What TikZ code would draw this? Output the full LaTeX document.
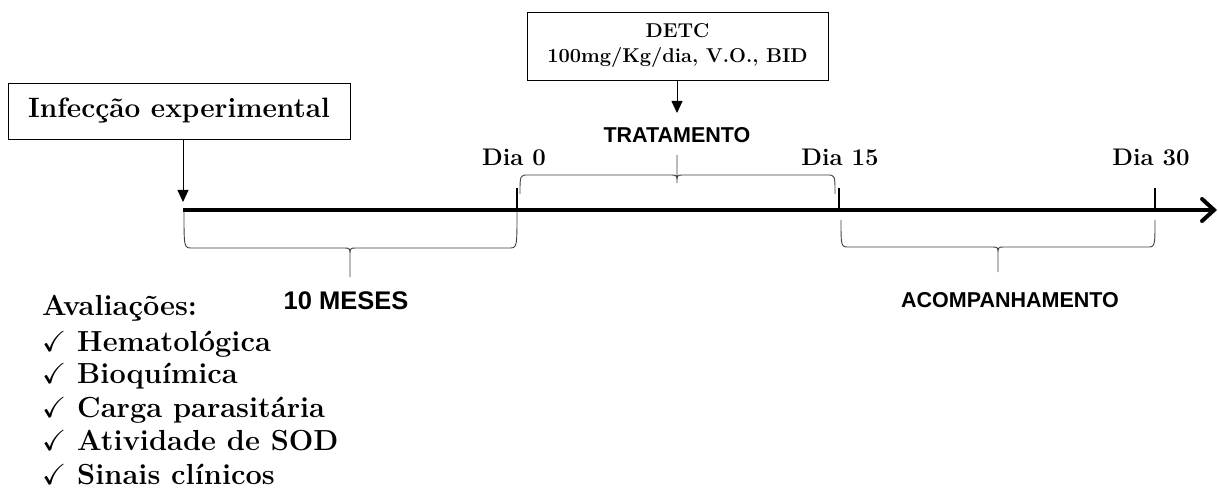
\documentclass[tikz,border=0pt]{standalone}
\usepackage{amssymb}
\usepackage{fontspec}
\newfontfamily\arialfont{Liberation Sans}
\usetikzlibrary{arrows.meta}
\tikzset{
  box/.style={draw, line width=0.8pt, inner sep=0pt, align=center},
  serifb/.style={font=\fontsize{24}{28}\selectfont\bfseries},
  sansb/.style={font=\arialfont\fontsize{21.5}{25}\selectfont\bfseries},
  listitem/.style={anchor=base west, inner sep=0pt, font=\fontsize{29}{33}\selectfont\bfseries},
  pointer/.style={line width=0.8pt, -{Triangle[length=12pt,width=11pt]}},
  brace/.style={line width=0.9pt, draw=black!75},
  tick/.style={line width=2.5pt},
}
\newcommand{\BraceDown}[6]{% L R T M P C
  \draw[brace] (#1,#3) .. controls (#1,#4) and (#1,#4) .. ({#1+8},#4) -- ({#6-6},#4)
    .. controls (#6,#4) and (#6,#4) .. (#6,{#4+8}) -- (#6,#5) -- (#6,{#4+8})
    .. controls (#6,#4) and (#6,#4) .. ({#6+6},#4) -- ({#2-8},#4)
    .. controls (#2,#4) and (#2,#4) .. (#2,#3);}
\begin{document}
\begin{tikzpicture}[x=1pt,y=-1pt]
\useasboundingbox (0,0) rectangle (1218,489);
% boxes
\node[box, font=\fontsize{28}{32}\selectfont\bfseries, minimum width=342pt, minimum height=56pt] (inf) at (179,111) {Infecção experimental};
\node[box, font=\fontsize{20}{25}\selectfont\bfseries, minimum width=301pt, minimum height=68pt] (detc) at (677.5,46) {DETC\\100mg/Kg/dia, V.O., BID};
% timeline
\coordinate (t0) at (183,210);
\coordinate (tend) at (1217,210);
\draw[line width=4pt, -{Straight Barb[length=12pt,width=22pt,line cap=round]}] (t0) -- (tend);
% pointers
\coordinate (pinf) at (183,202);
\coordinate (pdetc) at (677,113);
\draw[pointer] (inf.south -| pinf) -- (pinf);
\draw[pointer] (detc.south -| pdetc) -- (pdetc);
% ticks
\coordinate (d0) at (517,210); \coordinate (d0t) at (517,188);
\coordinate (d15) at (839,210); \coordinate (d15t) at (839,188);
\coordinate (d30) at (1155,210); \coordinate (d30t) at (1155,188);
\draw[tick] (d0) -- (d0t);
\draw[tick] (d15) -- (d15t);
\draw[tick] (d30) -- (d30t);
% braces
\BraceDown{184}{517}{212}{248}{277}{350}
\BraceDown{520}{835}{194}{175}{155}{677}
\BraceDown{841}{1155}{220}{247}{272}{998}
% labels
\node[serifb] (l0) at (514,157) {Dia 0};
\node[serifb] (l15) at (840,157) {Dia 15};
\node[serifb] (l30) at (1151,157) {Dia 30};
\node[sansb] (trat) at (677,135) {TRATAMENTO};
\node[sansb, font=\arialfont\fontsize{25.5}{30}\selectfont\bfseries] (meses) at (346,301) {10 MESES};
\node[sansb] (acomp) at (1010,300) {ACOMPANHAMENTO};
% list
\node[listitem] (av) at (42,315) {Avaliações:};
\node[listitem] (i1) at (42,351) {$\checkmark$ Hematológica};
\node[listitem] (i2) at (42,383) {$\checkmark$ Bioquímica};
\node[listitem] (i3) at (42,417) {$\checkmark$ Carga parasitária};
\node[listitem] (i4) at (42,450) {$\checkmark$ Atividade de SOD};
\node[listitem] (i5) at (42,484) {$\checkmark$ Sinais clínicos};
\end{tikzpicture}
\end{document}
